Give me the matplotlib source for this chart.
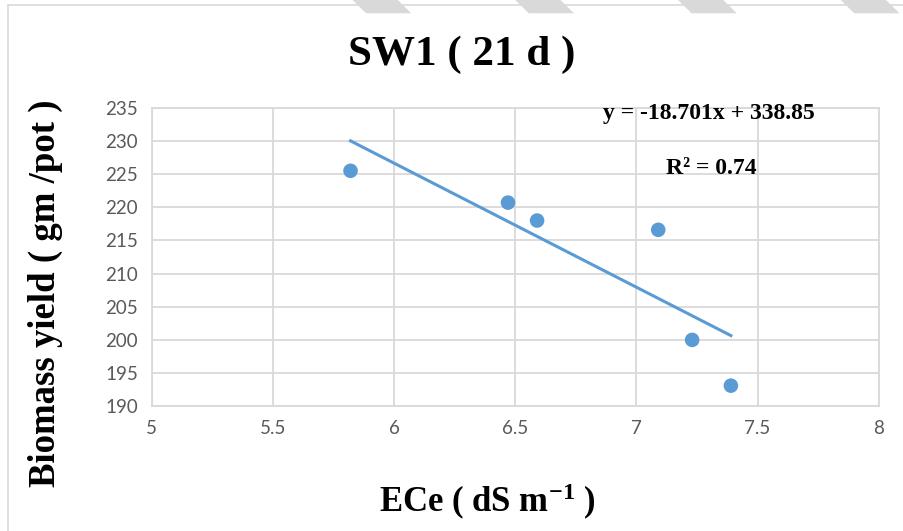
import numpy as np
import matplotlib.pyplot as plt
from matplotlib.patches import Rectangle, Polygon

# Data
ece = [5.82, 6.47, 6.59, 7.09, 7.23, 7.39]
biomass = [225.5, 220.7, 218.0, 216.6, 200.0, 193.1]
slope = -18.701
intercept = 338.85
r2 = 0.74

x_ticks = [5, 5.5, 6, 6.5, 7, 7.5, 8]
x_labels = ["5", "5.5", "6", "6.5", "7", "7.5", "8"]
y_ticks = [190, 195, 200, 205, 210, 215, 220, 225, 230, 235]

blue = "#5B9BD5"
grid_c = "#D9D9D9"
tick_c = "#595959"
serif = ["Liberation Serif", "DejaVu Serif"]

plt.rcParams['mathtext.fontset'] = 'custom'
plt.rcParams['mathtext.rm'] = 'Liberation Serif:bold'
plt.rcParams['mathtext.bf'] = 'Liberation Serif:bold'
plt.rcParams['mathtext.default'] = 'bf'

fig = plt.figure(figsize=(9.04, 5.31), dpi=100)
ax = fig.add_axes([0.168, 0.235, 0.804, 0.562])

# outer chart border and page stripes
fig.patches.append(Rectangle((0.009, -0.02), 1.2, 1.01, transform=fig.transFigure,
                             fill=False, edgecolor=grid_c, lw=1.2))
for x0 in [0.39, 0.57, 0.75, 0.93]:
    fig.patches.append(Polygon([(x0, 1.0), (x0 + 0.05, 1.0), (x0 + 0.065, 0.975), (x0 + 0.015, 0.975)],
                               closed=True, transform=fig.transFigure, color="#D9D9D9", lw=0))

ax.scatter(ece, biomass, s=110, color=blue, zorder=3, edgecolors="none")
xf = np.array([min(ece), max(ece)])
ax.plot(xf, slope * xf + intercept, color=blue, lw=2.2, zorder=2)

ax.set_xlim(5, 8)
ax.set_ylim(190, 235)
ax.set_xticks(x_ticks)
ax.set_xticklabels(x_labels)
ax.set_yticks(y_ticks)
ax.tick_params(length=0, labelsize=13.5, labelcolor=tick_c, pad=10)
for lab in ax.get_xticklabels() + ax.get_yticklabels():
    lab.set_fontfamily("Lato")
ax.grid(True, color=grid_c, lw=1.3)
ax.set_axisbelow(True)
for sp in ax.spines.values():
    sp.set_color(grid_c)
    sp.set_linewidth(1.3)

fig.text(0.511, 0.897, "SW1 ( 21 d )", ha="center", va="center", fontsize=31,
         fontweight="bold", family=serif)
fig.text(0.05, 0.447, "Biomass yield ( gm /pot )", ha="center", va="center", rotation=90,
         fontsize=26.5, fontweight="bold", family=serif)
fig.text(0.539, 0.055, r"ECe ( dS m$^{-1}$ )", ha="center", va="center",
         fontsize=25, fontweight="bold", family=serif)

ax.text(7.3, 234.2, "y = -18.701x + 338.85", ha="center", va="center", fontsize=17,
        fontweight="bold", family=serif)
ax.text(7.31, 225.9, "R² = %.2f" % r2, ha="center", va="center", fontsize=17,
        fontweight="bold", family=serif)

fig.savefig("out.png", dpi=100)
